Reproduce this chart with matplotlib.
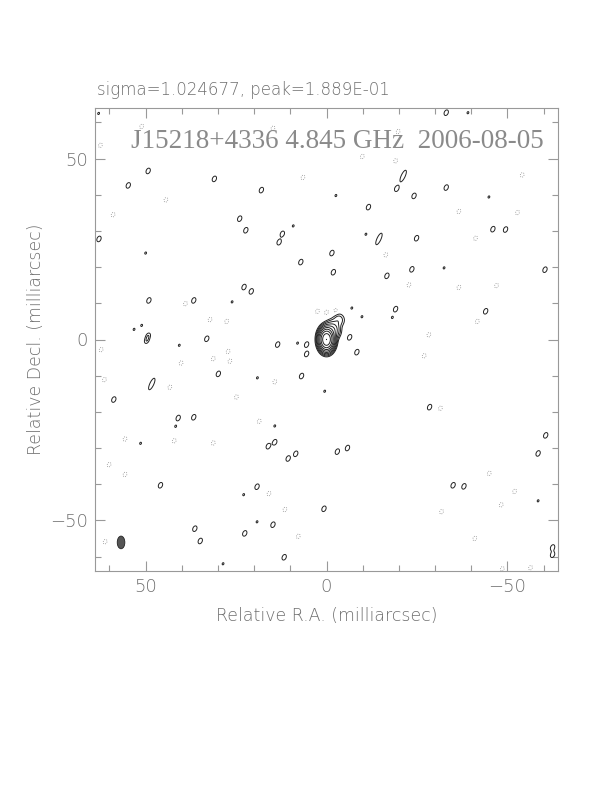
import numpy as np
import matplotlib
matplotlib.use("Agg")
import matplotlib.pyplot as plt
from matplotlib.patches import Ellipse

# image statistics (mJy/beam units for the map)
sigma = 1.024677
peak = 1.889e-01
source = "J15218+4336"
freq = "4.845 GHz"
date = "2006-08-05"

# core / jet components: x, y (mas), flux, sigma along x, sigma along y
core_x = [0.0, -1.6, -3.4]
core_y = [0.0, 2.6, 5.4]
core_flux = [188.9, 6.0, 1.2]
core_sx = [0.9, 1.1, 1.0]
core_sy = [1.36, 1.3, 1.1]

# positive noise peaks (mas)
pos_x = [49.3, 54.8, 31.0, 18.0, 24.0, 22.3, 12.2, 13.1, 7.1, 62.9, 22.8, 20.8,
         49.1, 36.7, 49.3, -33.1, -19.4, -24.2, -33.1, -11.6, -24.9, -46.0,
         -49.5, -1.5, -1.9, -16.7, -23.6, -60.4, -19.1, -44.0, -6.4, 49.7, 33.1,
         13.5, 5.5, 5.5, 29.9, 6.9, 58.8, 41.0, 36.7, 14.3, 16.1, 8.5, 10.6,
         45.9, 19.2, 0.7, 36.4, 14.8, 22.6, 34.9, 11.7,
         -8.4, -3.0, -28.5, -5.8, -35.0, -38.0, -58.5, -60.6, -62.5, -62.5]
pos_y = [46.6, 42.6, 44.4, 41.3, 33.4, 30.2, 29.2, 26.9, 21.4, 27.8, 14.5, 13.3,
         10.8, 10.8, 1.0, 62.7, 41.7, 39.7, 42.0, 36.6, 28.0, 30.5,
         30.4, 23.9, 18.6, 17.6, 19.4, 19.3, 8.4, 7.8, 0.6, -0.3, 0.2,
         -1.4, -1.4, -4.0, -9.5, -10.1, -16.6, -21.7, -21.5, -28.4, -29.5, -31.6, -32.9,
         -40.3, -40.7, -46.8, -52.3, -51.2, -53.6, -55.7, -60.2,
         -3.5, -31.0, -18.7, -30.0, -40.3, -40.6, -31.5, -26.5, -57.5, -59.5]

# elongated positive peaks: x, y (mas)
elong_x = [-21.2, -14.5, 48.3]
elong_y = [45.2, 27.8, -12.3]

# weak positive peaks (mas)
weak_x = [9.2, 50.0, 26.1, 51.1, 53.2, -39.1, -44.9, -2.6, -10.9, -32.5,
          -7.0, -18.2, -9.8, 8.0, 19.1, 41.7, 14.3, 51.4, 0.5, 22.9, 19.2, 28.6,
          40.7, -58.5, 63.0]
weak_y = [31.4, 23.9, 10.4, 3.9, 2.8, 62.7, 39.4, 39.8, 29.1, 19.8,
          8.7, 6.1, 6.3, -1.0, -10.6, -24.0, -23.9, -28.7, -14.3, -42.9, -50.4, -62.0,
          -1.6, -44.6, 62.5]

# negative noise peaks (mas)
neg_x = [51.1, 62.5, 44.4, 59.0, 6.5, 14.8, 32.2, 27.6, 39.0, 2.5, 0.0, -2.5,
         -19.8, -9.9, -19.1, -54.1, -36.6, -41.2, -52.8, -16.4, -22.8, -41.7,
         -47.0, -36.6, -28.3, 62.3, 40.2, 31.3, 27.2, 26.7, 14.3, 24.9, 43.3,
         61.4, 55.7, 42.1, 31.3, 55.7, 60.1, 15.9, 11.5, 7.8, 61.2, 18.6,
         -48.3, -48.6, -56.4, -31.8, -27.0, -31.5, -45.0, -52.0, -41.0]
neg_y = [58.9, 53.7, 38.6, 34.5, 44.8, 58.4, 5.5, 5.0, 9.9, 7.8, 7.5, 8.0,
         57.5, 50.6, 49.4, 45.5, 35.4, 28.0, 35.1, 23.4, 15.1, 5.0,
         14.9, 14.4, 1.3, -2.8, -6.5, -5.3, -3.3, -6.0, -11.7, -15.9, -13.2,
         -11.1, -27.5, -28.0, -28.6, -37.3, -34.6, -42.6, -47.0, -54.4, -55.9, -22.6,
         -45.7, -63.4, -63.1, -47.6, -4.5, -19.0, -37.0, -42.0, -55.0]

# restoring beam (mas)
beam_x, beam_y = 56.8, -56.1
beam_w, beam_h = 2.1, 3.5

base = peak * 1000 / 2 ** 9
levels = [base * 2 ** k for k in range(10)]

x = np.linspace(-64, 64, 1281)
y = np.linspace(-64, 64, 1281)
X, Y = np.meshgrid(x, y)
Z = np.zeros_like(X)


def add_blob(cx, cy, amp, smaj, smin, phi):
    # phi measured on screen from vertical, clockwise (RA axis is reversed)
    u = -(X - cx)
    v = Y - cy
    c, s = np.cos(np.radians(phi)), np.sin(np.radians(phi))
    a = u * s + v * c
    b = u * c - v * s
    return amp * np.exp(-0.5 * ((a / smaj) ** 2 + (b / smin) ** 2))


for cx, cy, f, sx, sy in zip(core_x, core_y, core_flux, core_sx, core_sy):
    Z += f * np.exp(-0.5 * (((X - cx) / sx) ** 2 + ((Y - cy) / sy) ** 2))
for cx, cy in zip(pos_x, pos_y):
    Z += add_blob(cx, cy, 1.8 * base, 0.75, 0.5, 25)
for cx, cy in zip(elong_x, elong_y):
    Z += add_blob(cx, cy, 1.8 * base, 1.6, 0.5, 25)
for cx, cy in zip(weak_x, weak_y):
    Z += add_blob(cx, cy, 1.15 * base, 0.6, 0.45, 25)
for cx, cy in zip(neg_x, neg_y):
    Z -= add_blob(cx, cy, 1.4 * base, 0.8, 0.6, 25)

fig = plt.figure(figsize=(6.12, 7.92), dpi=100)
ax = fig.add_axes([95 / 612, 1 - 571 / 792, 463 / 612, 463 / 792])

ax.contour(X, Y, Z, levels=levels, colors="#222222", linewidths=0.7)
ax.contour(X, Y, Z, levels=[-base], colors="#888888", linewidths=0.6,
           linestyles="dotted")

ax.add_patch(Ellipse((beam_x, beam_y), beam_w, beam_h, facecolor="#555555",
                     edgecolor="#222222", lw=0.6))

ax.set_xlim(64, -64)
ax.set_ylim(-64, 64)

gray = "#6e6e6e"
for sp in ax.spines.values():
    sp.set_color("#999999")
    sp.set_linewidth(0.8)
ax.set_xticks([50, 0, -50])
ax.set_yticks([-50, 0, 50])
ax.set_xticks(np.arange(-60, 61, 10), minor=True)
ax.set_yticks(np.arange(-60, 61, 10), minor=True)
ax.set_xticklabels(["50", "0", "\u221250"])
ax.set_yticklabels(["\u221250", "0", "50"])
ax.tick_params(which="both", direction="in", top=True, right=True,
               color="#999999", labelcolor=gray, labelsize=13, width=0.8)
ax.tick_params(which="major", length=7, pad=5)
ax.tick_params(which="minor", length=4)
for lab in ax.get_xticklabels() + ax.get_yticklabels():
    lab.set_fontweight("light")

ax.set_xlabel("Relative R.A. (milliarcsec)", color=gray, fontsize=12.5,
              labelpad=8, fontweight="light")
ax.set_ylabel("Relative Decl. (milliarcsec)", color=gray, fontsize=12.5,
              labelpad=4, fontweight="light")

fig.text(97 / 612, 1 - 90 / 792, "sigma=%.6f, peak=%.3E" % (sigma, peak),
         color=gray, fontsize=12, va="center", ha="left", fontweight="light")
ax.text(0.523, 0.927, "%s %s  %s" % (source, freq, date),
        transform=ax.transAxes, ha="center", va="center",
        family="Liberation Serif", fontsize=19.5, color="#8a8a8a")

fig.savefig("out.png", dpi=100)
